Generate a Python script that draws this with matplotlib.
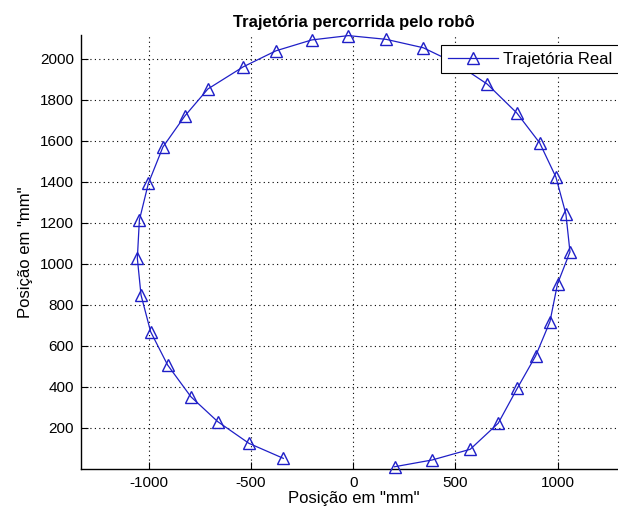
import matplotlib
matplotlib.use("Agg")
import matplotlib.pyplot as plt

# Trajectory (mm)
x_mm = [202, 386, 572, 709, 802, 892, 962, 999, 1060, 1040, 991, 912, 800, 655,
        507, 342, 160, -24, -203, -378, -538, -711, -824, -931, -1002, -1046,
        -1056, -1038, -991, -908, -794, -663, -510, -342]
y_mm = [11, 44, 96, 223, 393, 551, 718, 902, 1058, 1243, 1423, 1589, 1735, 1876,
        1974, 2053, 2094, 2112, 2091, 2038, 1960, 1852, 1720, 1569, 1392, 1213,
        1027, 848, 669, 507, 352, 231, 125, 52]

x_ticks = [-1000, -500, 0, 500, 1000]
y_ticks = [200, 400, 600, 800, 1000, 1200, 1400, 1600, 1800, 2000]

title = "Trajetória percorrida pelo robô"
xlabel = 'Posição em "mm"'
ylabel = 'Posição em "mm"'
legend_label = "Trajetória Real"

plt.rcParams['font.family'] = ['Liberation Sans', 'DejaVu Sans']
plt.rcParams['axes.unicode_minus'] = False

W, H = 618, 515
fig = plt.figure(figsize=(W / 100, H / 100), dpi=100)
ax_l, ax_r, ax_t, ax_b = 80.7, 626, 35, 469
ax = fig.add_axes([ax_l / W, (H - ax_b) / H, (ax_r - ax_l) / W, (ax_b - ax_t) / H])

blue = (0.12, 0.12, 0.78)
ax.plot(x_mm, y_mm, color=blue, lw=0.9, marker='^', markersize=8,
        markerfacecolor='none', markeredgecolor=blue, markeredgewidth=1.0,
        label=legend_label, clip_on=False, zorder=3)

ax.set_xlim(-1333, 1334)
ax.set_ylim(0, 2115)
ax.set_xticks(x_ticks)
ax.set_yticks(y_ticks)
ax.tick_params(direction='in', length=5, width=0.8, labelsize=11, colors='black', pad=5)
ax.spines['top'].set_visible(False)
ax.spines['right'].set_visible(False)
for s in ('left', 'bottom'):
    ax.spines[s].set_linewidth(1.0)
ax.grid(True, color='black', linestyle=(0, (1, 3)), linewidth=0.8)
ax.set_axisbelow(True)

ax.set_title(title, fontsize=12, fontweight='bold', pad=6)
ax.set_xlabel(xlabel, fontsize=12, labelpad=1)
ax.set_ylabel(ylabel, fontsize=12, labelpad=5)

leg = ax.legend(loc='upper left', bbox_to_anchor=(441 / W, (H - 45) / H),
                bbox_transform=fig.transFigure, frameon=True, fancybox=False,
                fontsize=12, handlelength=3.0, borderpad=0.4, handletextpad=0.3,
                borderaxespad=0, framealpha=1, facecolor='white', edgecolor='black')
leg.get_frame().set_linewidth(0.8)
leg.set_zorder(10)

fig.savefig("out.png", dpi=100)
